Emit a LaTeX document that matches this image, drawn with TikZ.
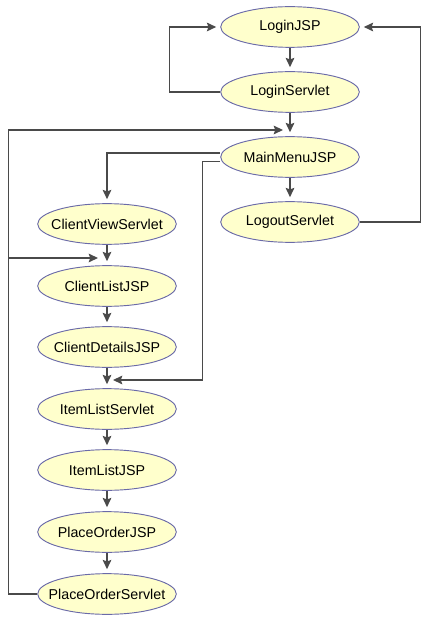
\documentclass[tikz,border=0pt]{standalone}
\usepackage{fontspec}
\setmainfont{Liberation Sans}
\usetikzlibrary{shapes.geometric,arrows.meta}
\definecolor{pagefill}{HTML}{FFFFCC}
\definecolor{pageline}{HTML}{6A6AA8}
\definecolor{flowline}{HTML}{4A4A4A}
\newcommand{\pagename}[1]{\makebox[60pt]{#1}}
\begin{document}
\begin{tikzpicture}[x=0.75pt, y=-0.75pt,
    page/.style={ellipse, draw=pageline, fill=pagefill, line width=0.7pt, minimum width=104pt, minimum height=30.5pt, inner sep=0pt, font=\fontsize{10.7}{12}\selectfont},
    flow/.style={draw=flowline, line width=1pt, -{Stealth[length=7pt,width=6.5pt,inset=1.2pt]}, shorten >=3pt}]
    \useasboundingbox (0,0) rectangle (431,623);

    \node[page] (loginjsp) at (290,27) {\pagename{LoginJSP}};
    \node[page] (loginservlet) at (290,92) {\pagename{LoginServlet}};
    \node[page] (mainmenujsp) at (290,157) {\pagename{MainMenuJSP}};
    \node[page] (logoutservlet) at (290,222) {\pagename{LogoutServlet}};
    \node[page] (clientviewservlet) at (107,224) {\pagename{ClientViewServlet}};
    \node[page] (clientlistjsp) at (107,286) {\pagename{ClientListJSP}};
    \node[page] (clientdetailsjsp) at (107,347) {\pagename{ClientDetailsJSP}};
    \node[page] (itemlistservlet) at (107,409) {\pagename{ItemListServlet}};
    \node[page] (itemlistjsp) at (107,470) {\pagename{ItemListJSP}};
    \node[page] (placeorderjsp) at (107,532) {\pagename{PlaceOrderJSP}};
    \node[page] (placeorderservlet) at (107,594) {\pagename{PlaceOrderServlet}};

    \coordinate (intomenu) at (283,130);
    \coordinate (intoclient) at (98,258);
    \coordinate (intoitem) at (113,380);
    \coordinate (loopbranch) at (9,258);

    \draw[flow] (loginjsp) -- (loginservlet);
    \draw[flow] (loginservlet.west) -- ++(-51,0) |- (loginjsp.west);
    \draw[flow] (loginservlet) -- (mainmenujsp);
    \draw[flow] (mainmenujsp) -- (logoutservlet);
    \draw[flow] (logoutservlet.east) -- ++(61,0) |- (loginjsp.east);
    \draw[flow] ([yshift=3pt]mainmenujsp.west) -| (clientviewservlet);
    \draw[flow, shorten >=0pt] ([yshift=-3.5pt]mainmenujsp.west) -- ++(-18,0) |- (intoitem);

    \draw[flow] (clientviewservlet) -- (clientlistjsp);
    \draw[flow] (clientlistjsp) -- (clientdetailsjsp);
    \draw[flow] (clientdetailsjsp) -- (itemlistservlet);
    \draw[flow] (itemlistservlet) -- (itemlistjsp);
    \draw[flow] (itemlistjsp) -- (placeorderjsp);
    \draw[flow] (placeorderjsp) -- (placeorderservlet);

    \draw[flow, shorten >=0pt] (placeorderservlet.west) -- ++(-29,0) |- (intomenu);
    \draw[flow, shorten >=0pt] (loopbranch) -- (intoclient);
\end{tikzpicture}
\end{document}
